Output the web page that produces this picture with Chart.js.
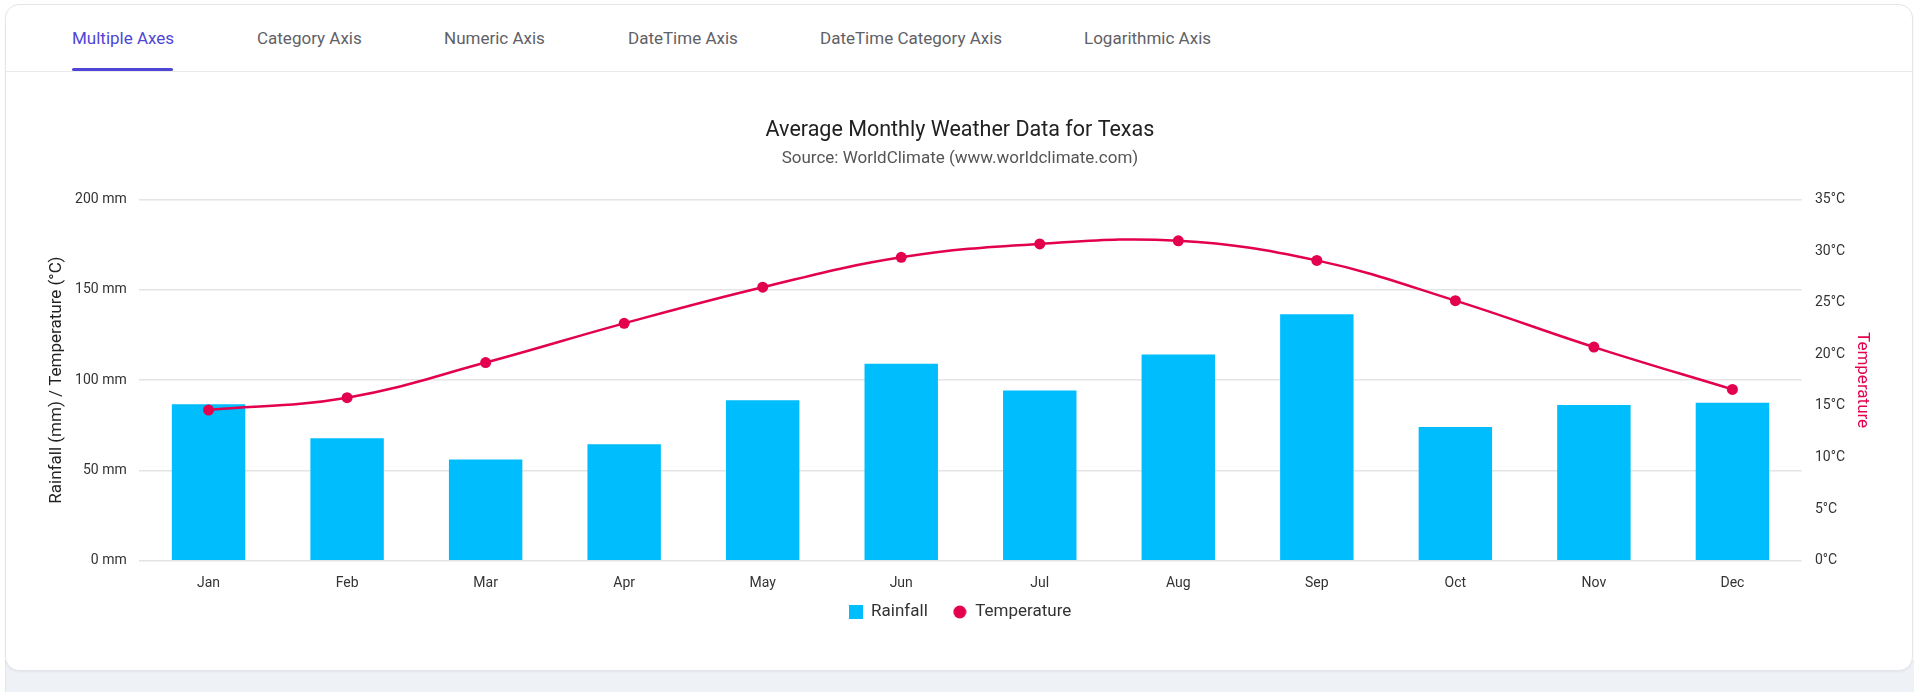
<!DOCTYPE html>
<html>
<head>
<meta charset="utf-8">
<script src="https://cdn.jsdelivr.net/npm/chart.js@4.4.1/dist/chart.umd.min.js"></script>
<style>
  html, body { margin: 0; padding: 0; }
  body { width: 1919px; height: 692px; overflow: hidden; background: #fff; font-family: Roboto, "Noto Sans", sans-serif; position: relative; }
  .below { position: absolute; left: 5px; top: 660px; width: 1908px; height: 40px; background: #eef1f5; border-left: 1px solid #e3e5e9; }
  .card { position: absolute; left: 5px; top: 4px; width: 1906px; height: 665px; border: 1px solid #e3e5e9; border-radius: 14px; background: #fff; box-shadow: 0 1px 2px rgba(0,0,0,0.05); }
  .sep { position: absolute; left: 6px; top: 71px; width: 1906px; height: 1px; background: #ebebeb; }
  .tab { position: absolute; top: 28px; font-size: 17px; line-height: 20px; color: #5f6166; white-space: nowrap; }
  .tab.active { color: #4f46d6; }
  .underline { position: absolute; left: 72px; top: 68px; width: 101px; height: 3px; background: #4f46d6; border-radius: 2px; }
  #wrap { position: absolute; left: 0; top: 80px; width: 1919px; height: 578px; }
</style>
</head>
<body>
<div class="below"></div>
<div class="card"></div>
<div class="tab active" style="left:72px">Multiple Axes</div>
<div class="tab" style="left:257px">Category Axis</div>
<div class="tab" style="left:444px">Numeric Axis</div>
<div class="tab" style="left:628px">DateTime Axis</div>
<div class="tab" style="left:820px">DateTime Category Axis</div>
<div class="tab" style="left:1084px">Logarithmic Axis</div>
<div class="underline"></div>
<div class="sep"></div>
<div id="wrap"><canvas id="weatherChart"></canvas></div>
<script>
// Average monthly weather
const months = ['Jan', 'Feb', 'Mar', 'Apr', 'May', 'Jun', 'Jul', 'Aug', 'Sep', 'Oct', 'Nov', 'Dec'];
const rainfall = [86.6, 67.8, 56.1, 64.5, 88.9, 109.1, 94.3, 114.2, 136.4, 74.0, 86.2, 87.5];
const temperature = [14.6, 15.8, 19.2, 23.0, 26.5, 29.4, 30.7, 31.0, 29.1, 25.2, 20.7, 16.6];
const rainTicks = [0, 50, 100, 150, 200];
const tempTicks = [0, 5, 10, 15, 20, 25, 30, 35];

const RAIN_COLOR = '#00bdfe';
const TEMP_COLOR = '#e3004e';
const GRID_COLOR = '#e4e4e4';
const TICK_COLOR = '#333333';

// small canvases used as legend markers (square + circle of the same size)
function makeIcon(kind, color) {
    const c = document.createElement('canvas');
    c.width = 14;
    c.height = 14;
    const g = c.getContext('2d');
    g.fillStyle = color;
    if (kind === 'circle') {
        g.beginPath();
        g.arc(7, 7, 6.5, 0, Math.PI * 2);
        g.fill();
    } else {
        g.fillRect(0, 0, 14, 14);
    }
    return c;
}
const legendIcons = [makeIcon('rect', RAIN_COLOR), makeIcon('circle', TEMP_COLOR)];

// pulls the legend a bit closer to the month labels
const legendLift = {
    id: 'legendLift',
    afterLayout(chart, args, opts) {
        if (!chart.legend) return;
        chart.legend.top -= opts.lift;
        chart.legend.bottom -= opts.lift;
    }
};

const ctx = document.getElementById('weatherChart');

new Chart(ctx, {
    data: {
        labels: months,
        datasets: [
            {
                type: 'bar',
                label: 'Rainfall',
                data: rainfall,
                yAxisID: 'y',
                backgroundColor: RAIN_COLOR,
                borderWidth: 0,
                barPercentage: 0.53,
                categoryPercentage: 1,
                order: 1
            },
            {
                type: 'line',
                label: 'Temperature',
                data: temperature,
                yAxisID: 'y1',
                borderColor: TEMP_COLOR,
                backgroundColor: TEMP_COLOR,
                borderWidth: 2.5,
                pointRadius: 5.5,
                pointBorderWidth: 0,
                pointBackgroundColor: TEMP_COLOR,
                tension: 0.4,
                fill: false,
                order: 0
            }
        ]
    },
    plugins: [legendLift],
    options: {
        responsive: true,
        maintainAspectRatio: false,
        animation: false,
        layout: { padding: { top: 0, left: 43.4, right: 42.5, bottom: 0.5 } },
        font: { family: 'Roboto' },
        plugins: {
            title: {
                display: true,
                text: 'Average Monthly Weather Data for Texas',
                color: '#212121',
                font: { family: 'Roboto', size: 21.5, weight: 'normal', lineHeight: 1.2 },
                padding: { top: 37.6, bottom: 5.4 }
            },
            subtitle: {
                display: true,
                text: 'Source: WorldClimate (www.worldclimate.com)',
                color: '#555555',
                font: { family: 'Roboto', size: 17, weight: 'normal', lineHeight: 1.2 },
                padding: { top: 0, bottom: 30.3 }
            },
            legend: {
                position: 'bottom',
                labels: {
                    usePointStyle: true,
                    pointStyleWidth: 14,
                    padding: 25,
                    color: '#333333',
                    font: { family: 'Roboto', size: 17 },
                    sort: (a, b) => a.datasetIndex - b.datasetIndex,
                    generateLabels: (chart) => {
                        const items = Chart.defaults.plugins.legend.labels.generateLabels(chart);
                        items.forEach(item => { item.pointStyle = legendIcons[item.datasetIndex]; });
                        return items;
                    }
                }
            },
            legendLift: { lift: 27 },
            tooltip: { enabled: false }
        },
        scales: {
            x: {
                grid: { display: false, drawTicks: false },
                border: { display: false },
                ticks: { color: TICK_COLOR, padding: 14, font: { family: 'Roboto', size: 14, lineHeight: 1.2 } }
            },
            y: {
                position: 'left',
                min: rainTicks[0],
                max: rainTicks[rainTicks.length - 1],
                ticks: {
                    stepSize: rainTicks[1] - rainTicks[0],
                    color: TICK_COLOR,
                    padding: 12.6,
                    font: { family: 'Roboto', size: 14 },
                    callback: (v) => v + ' mm'
                },
                grid: { color: GRID_COLOR, lineWidth: 1.5, drawTicks: false },
                border: { display: false },
                title: {
                    display: true,
                    text: 'Rainfall (mm) / Temperature (°C)',
                    color: '#222222',
                    font: { family: 'Roboto', size: 17, lineHeight: 1.2 },
                    padding: { top: 3.6, bottom: 4 }
                },
                afterFit: (scale) => { scale.width = 95.9; }
            },
            y1: {
                position: 'right',
                min: tempTicks[0],
                max: tempTicks[tempTicks.length - 1],
                ticks: {
                    stepSize: tempTicks[1] - tempTicks[0],
                    color: TICK_COLOR,
                    padding: 13.3,
                    font: { family: 'Roboto', size: 14 },
                    callback: (v) => v + '°C'
                },
                grid: { drawOnChartArea: false, drawTicks: false },
                border: { display: false },
                title: {
                    display: true,
                    text: 'Temperature',
                    color: TEMP_COLOR,
                    font: { family: 'Roboto', size: 17, lineHeight: 1.2 },
                    padding: { top: 3.6, bottom: 4 }
                },
                afterFit: (scale) => { scale.width = 74.8; }
            }
        }
    }
});
</script>
</body>
</html>
